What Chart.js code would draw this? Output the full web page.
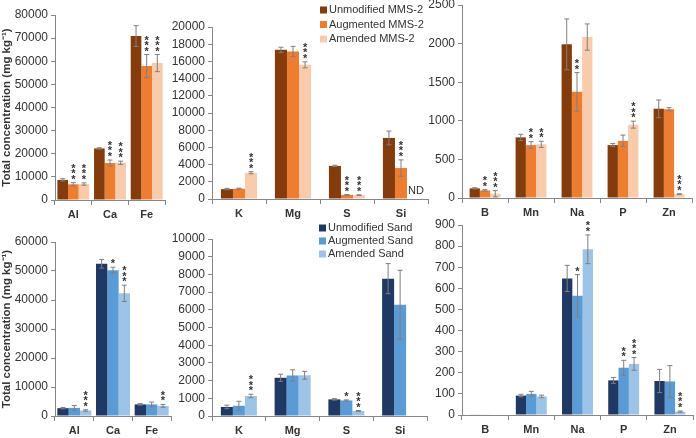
<!DOCTYPE html>
<html>
<head>
<meta charset="utf-8">
<script src="https://cdn.jsdelivr.net/npm/chart.js@4"></script>
<style>
  html, body { margin: 0; padding: 0; background: #fff; overflow: hidden; }
  body { width: 696px; height: 438px; position: relative; }
  .panel { position: absolute; }
</style>
</head>
<body>
<div class="panel" style="left:-4px;top:0px;width:174px;height:226px"><canvas id="p1"></canvas></div>
<div class="panel" style="left:157px;top:0px;width:276px;height:225px"><canvas id="p2"></canvas></div>
<div class="panel" style="left:412px;top:-10px;width:286px;height:234px"><canvas id="p3"></canvas></div>
<div class="panel" style="left:-4px;top:222px;width:180px;height:220px"><canvas id="p4"></canvas></div>
<div class="panel" style="left:157px;top:220px;width:275px;height:222px"><canvas id="p5"></canvas></div>
<div class="panel" style="left:412px;top:210px;width:287px;height:231px"><canvas id="p6"></canvas></div>
<script>
// categories
var majorCats = ['Al', 'Ca', 'Fe'];
var midCats = ['K', 'Mg', 'S', 'Si'];
var minorCats = ['B', 'Mn', 'Na', 'P', 'Zn'];

var mmsLabels = ['Unmodified MMS-2', 'Augmented MMS-2', 'Amended MMS-2'];
var sandLabels = ['Unmodified Sand', 'Augmented Sand', 'Amended Sand'];
var mmsColors = ['#843C0C', '#ED7D31', '#F8CBAD'];
var sandColors = ['#1F3864', '#5B9BD5', '#9DC3E6'];

// MMS-2 (top row) : [unmodified, augmented, amended]
var mmsMajorMeans = [[8700, 22300, 70900], [6800, 16000, 57900], [6900, 16100, 59200]];
var mmsMajorErr = [[500, 300, 4500], [700, 1300, 5000], [500, 700, 3700]];
var mmsMajorSig = [['', '', ''], ['***', '***', '***'], ['***', '***', '***']];

var mmsMidMeans = [[1150, 17350, 3850, 7100], [1200, 17150, 480, 3600], [3050, 15600, 450, null]];
var mmsMidErr = [[80, 300, 80, 800], [60, 600, 40, 950], [120, 350, 40, 0]];
var mmsMidSig = [['', '', '', ''], ['', '', '***', '***'], ['***', '***', '***', 'ND']];

var mmsMinorMeans = [[125, 785, 1990, 685, 1155], [98, 685, 1375, 740, 1150], [55, 695, 2085, 950, 50]];
var mmsMinorErr = [[8, 40, 330, 20, 115], [10, 45, 250, 75, 20], [40, 40, 170, 45, 5]];
var mmsMinorSig = [['', '', '', '', ''], ['**', '**', '**', '', ''], ['***', '**', '', '***', '***']];

// Sand (bottom row)
var sandMajorMeans = [[2700, 52500, 4000], [2800, 50300, 4000], [1900, 42300, 3500]];
var sandMajorErr = [[250, 1500, 250], [800, 1000, 800], [250, 2800, 500]];
var sandMajorSig = [['', '', ''], ['', '*', ''], ['***', '***', '**']];

var sandMidMeans = [[510, 2160, 940, 7760], [580, 2290, 880, 6280], [1130, 2300, 280, null]];
var sandMidErr = [[100, 200, 40, 850], [250, 320, 30, 1950], [100, 220, 30, 0]];
var sandMidSig = [['', '', '', ''], ['', '', '*', ''], ['***', '', '***', '']];

var sandMinorMeans = [[2, 92, 647, 164, 161], [2, 100, 565, 224, 159], [0, 88, 785, 242, 16]];
var sandMinorErr = [[0, 6, 62, 14, 55], [0, 12, 100, 35, 75], [0, 6, 68, 30, 3]];
var sandMinorSig = [['', '', '', '', ''], ['', '', '*', '**', ''], ['', '', '**', '***', '***']];

var yTitle = 'Total concentration (mg kg\u207B\u00B9)';
var FONT = "'Liberation Sans', Arial, sans-serif";

// error bars + significance stars + ND
var errorBars = {
  id: 'errorBars',
  afterDatasetsDraw: function (chart) {
    var ctx = chart.ctx, y = chart.scales.y;
    ctx.save();
    chart.data.datasets.forEach(function (ds, i) {
      var meta = chart.getDatasetMeta(i);
      meta.data.forEach(function (bar, j) {
        var m = ds.data[j], e = ds.errors[j], s = ds.stars[j];
        if (m === null) {
          if (s === 'ND') {
            ctx.fillStyle = '#333';
            ctx.font = '11px ' + FONT;
            ctx.textAlign = 'center';
            ctx.textBaseline = 'middle';
            ctx.fillText('ND', bar.x + 3, y.bottom - 8);
          }
          return;
        }
        var top = y.getPixelForValue(m + e);
        if (e > 0) {
          var bot = y.getPixelForValue(Math.max(m - e, 0));
          ctx.strokeStyle = '#7F7F7F';
          ctx.lineWidth = 1;
          ctx.beginPath();
          ctx.moveTo(bar.x, top); ctx.lineTo(bar.x, bot);
          ctx.moveTo(bar.x - 2.5, top); ctx.lineTo(bar.x + 2.5, top);
          ctx.moveTo(bar.x - 2.5, bot); ctx.lineTo(bar.x + 2.5, bot);
          ctx.stroke();
        }
        if (s && s !== 'ND') {
          ctx.fillStyle = '#333';
          ctx.font = 'bold 11px ' + FONT;
          ctx.textAlign = 'center';
          ctx.textBaseline = 'alphabetic';
          for (var k = 0; k < s.length; k++) {
            ctx.fillText('*', bar.x, top - k * 5.5);
          }
        }
      });
    });
    ctx.restore();
  }
};

var cornerLegend = {
  id: 'cornerLegend',
  afterDraw: function (chart, args, opts) {
    if (!opts || opts.x === undefined) return;
    var ctx = chart.ctx;
    ctx.save();
    ctx.font = '11px ' + FONT;
    ctx.textBaseline = 'middle';
    ctx.textAlign = 'left';
    chart.data.datasets.forEach(function (ds, i) {
      var yy = opts.y + i * opts.dy;
      ctx.fillStyle = ds.backgroundColor;
      ctx.fillRect(opts.x, yy - 3.5, 7, 7);
      ctx.fillStyle = '#333';
      ctx.fillText(ds.label, opts.x + 9, yy);
    });
    ctx.restore();
  }
};

function makePanel(id, cats, means, errs, sig, labels, colors, cfg) {
  var datasets = means.map(function (m, i) {
    return {
      label: labels[i],
      data: m,
      errors: errs[i],
      stars: sig[i],
      backgroundColor: colors[i],
      categoryPercentage: cfg.cat,
      barPercentage: 1
    };
  });
  return new Chart(document.getElementById(id), {
    type: 'bar',
    data: { labels: cats, datasets: datasets },
    plugins: [errorBars, cornerLegend],
    options: {
      responsive: true,
      maintainAspectRatio: false,
      animation: false,
      layout: { padding: { top: cfg.top, right: cfg.right, bottom: 0, left: 0 } },
      plugins: {
        legend: { display: false },
        tooltip: { enabled: false },
        cornerLegend: cfg.legend || {}
      },
      scales: {
        x: {
          grid: { offset: true, drawOnChartArea: false, tickLength: 5, color: '#868686' },
          border: { color: '#868686' },
          ticks: { color: '#333', font: { family: FONT, size: 11, weight: 'bold' }, padding: 3 },
          afterFit: function (s) { s.height = 26; }
        },
        y: {
          min: 0,
          max: cfg.max,
          grid: { drawOnChartArea: false, tickLength: 4, color: '#868686' },
          border: { color: '#868686' },
          ticks: {
            stepSize: cfg.step,
            autoSkip: false,
            color: '#333',
            font: { family: FONT, size: 12 },
            padding: 3,
            callback: function (v) { return String(v); }
          },
          title: {
            display: !!cfg.title,
            text: yTitle,
            color: '#333',
            font: { family: FONT, size: 11.5, weight: 'bold' },
            padding: { top: 4, bottom: 0 }
          },
          afterFit: function (s) { s.width = cfg.yw; }
        }
      }
    }
  });
}

makePanel('p1', majorCats, mmsMajorMeans, mmsMajorErr, mmsMajorSig, mmsLabels, mmsColors,
  { cat: 0.87, max: 80000, step: 10000, top: 15, right: 5, yw: 59, title: true });
makePanel('p2', midCats, mmsMidMeans, mmsMidErr, mmsMidSig, mmsLabels, mmsColors,
  { cat: 0.67, max: 20000, step: 2000, top: 27, right: 5, yw: 55, legend: { x: 163, y: 10, dy: 14.5 } });
makePanel('p3', minorCats, mmsMinorMeans, mmsMinorErr, mmsMinorSig, mmsLabels, mmsColors,
  { cat: 0.67, max: 2500, step: 500, top: 15, right: 6, yw: 50 });

makePanel('p4', majorCats, sandMajorMeans, sandMajorErr, sandMajorSig, sandLabels, sandColors,
  { cat: 0.88, max: 60000, step: 10000, top: 20, right: 5, yw: 59, title: true });
makePanel('p5', midCats, sandMidMeans, sandMidErr, sandMidSig, sandLabels, sandColors,
  { cat: 0.67, max: 10000, step: 1000, top: 19, right: 5, yw: 55, legend: { x: 162, y: 8, dy: 13 } });
makePanel('p6', minorCats, sandMinorMeans, sandMinorErr, sandMinorSig, sandLabels, sandColors,
  { cat: 0.67, max: 900, step: 100, top: 15, right: 6, yw: 50 });
</script>
</body>
</html>
